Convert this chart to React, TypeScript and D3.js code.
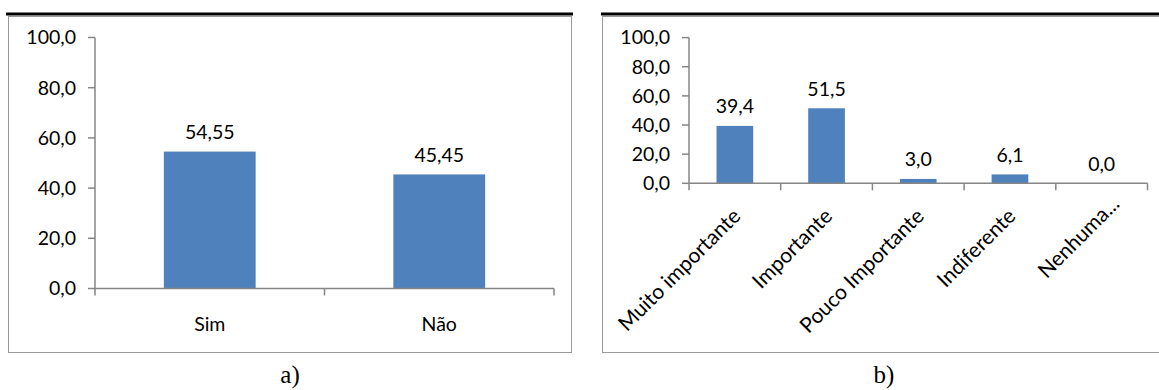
import React from "react";
import * as d3 from "d3";

const catsA = ["Sim", "Não"];
const valsA = [54.55, 45.45];
const labelsA = ["54,55", "45,45"];

const catsB = ["Muito importante", "Importante", "Pouco Importante", "Indiferente", "Nenhuma..."];
const valsB = [39.4, 51.5, 3.0, 6.1, 0.0];
const labelsB = ["39,4", "51,5", "3,0", "6,1", "0,0"];

const yTicks = [0, 20, 40, 60, 80, 100];
const fmt = (v: number) => v.toFixed(1).replace(".", ",");

const FONT = "Lato, 'Open Sans', sans-serif";
const AXIS = "#868686";
const BAR = "#4F81BD";
const NUM_SIZE = 19.5;

type PanelProps = {
  cats: string[];
  vals: number[];
  labels: string[];
  x0: number;
  x1: number;
  y0: number;
  y1: number;
  rotate: boolean;
};

function Panel({ cats, vals, labels, x0, x1, y0, y1, rotate }: PanelProps) {
  const x = d3.scaleBand<string>().domain(cats).range([x0, x1]).paddingInner(0.6).paddingOuter(0.3);
  const xb = d3.scaleBand<string>().domain(cats).range([x0, x1]);
  const y = d3.scaleLinear().domain([0, 100]).range([y0, y1]);
  const bounds = [x0, ...cats.map((c) => (xb(c) as number) + xb.bandwidth())];
  return (
    <g>
      {vals.map((v, i) => (
        <rect key={"b" + i} x={x(cats[i])} y={y(v)} width={x.bandwidth()} height={y(0) - y(v)} fill={BAR} />
      ))}
      {vals.map((v, i) => (
        <text
          key={"l" + i}
          x={(x(cats[i]) as number) + x.bandwidth() / 2}
          y={y(v) - 12.5}
          textAnchor="middle"
          fontFamily={FONT}
          fontSize={NUM_SIZE}
          fill="#000"
        >
          {labels[i]}
        </text>
      ))}
      <line x1={x0} x2={x0} y1={y(0)} y2={y(100)} stroke={AXIS} strokeWidth={1.5} />
      <line x1={x0} x2={x1} y1={y(0)} y2={y(0)} stroke={AXIS} strokeWidth={1.5} />
      {yTicks.map((t) => (
        <g key={"t" + t}>
          <line x1={x0 - 7} x2={x0} y1={y(t)} y2={y(t)} stroke={AXIS} strokeWidth={1.5} />
          <text x={x0 - 19} y={y(t)} dy="0.35em" textAnchor="end" fontFamily={FONT} fontSize={NUM_SIZE} fill="#000">
            {fmt(t)}
          </text>
        </g>
      ))}
      {bounds.map((bx, i) => (
        <line key={"k" + i} x1={bx} x2={bx} y1={y(0)} y2={y(0) + 7} stroke={AXIS} strokeWidth={1.5} />
      ))}
      {cats.map((c, i) => {
        const cx = (xb(c) as number) + xb.bandwidth() / 2;
        if (rotate) {
          const ax = cx + 7;
          const ay = y(0) + 34;
          const trunc = c.endsWith("...");
          return (
            <text
              key={"c" + i}
              x={ax}
              y={ay}
              dx={trunc ? 17 : 0}
              transform={`rotate(-45 ${ax} ${ay})`}
              textAnchor="end"
              fontFamily={FONT}
              fontSize={21}
              fill="#000"
            >
              {c}
            </text>
          );
        }
        return (
          <text key={"c" + i} x={cx} y={y(0) + 42.5} textAnchor="middle" fontFamily={FONT} fontSize={NUM_SIZE} fill="#000">
            {c}
          </text>
        );
      })}
    </g>
  );
}

export default function App() {
  return (
    <svg width={1159} height={390} style={{ position: "absolute", left: 0, top: 0, background: "#fff" }}>
      <rect x={0} y={0} width={1159} height={390} fill="#fff" />
      {/* left panel frame */}
      <line x1={6} x2={573} y1={14} y2={14} stroke="#000" strokeWidth={3} />
      <rect x={8.5} y={16.5} width={563} height={336} fill="none" stroke="#9a9a9a" strokeWidth={1} />
      {/* right panel frame */}
      <line x1={601} x2={1159} y1={14} y2={14} stroke="#000" strokeWidth={3} />
      <rect x={602.5} y={16.5} width={600} height={336} fill="none" stroke="#9a9a9a" strokeWidth={1} />

      <Panel cats={catsA} vals={valsA} labels={labelsA} x0={95} x1={554} y0={288.5} y1={37.5} rotate={false} />
      <Panel cats={catsB} vals={valsB} labels={labelsB} x0={689} x1={1147.5} y0={183.3} y1={37.6} rotate={true} />

      <text x={290} y={383} textAnchor="middle" fontFamily="'Liberation Serif', 'Times New Roman', serif" fontSize={25}>
        a)
      </text>
      <text x={884} y={383} textAnchor="middle" fontFamily="'Liberation Serif', 'Times New Roman', serif" fontSize={25}>
        b)
      </text>
    </svg>
  );
}
